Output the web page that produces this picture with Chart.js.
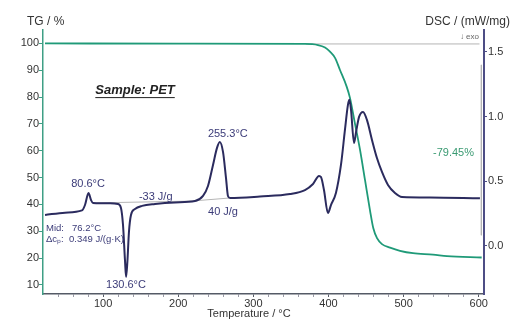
<!DOCTYPE html>
<html>
<head>
<meta charset="utf-8">
<script src="https://cdn.jsdelivr.net/npm/chart.js@4/dist/chart.umd.min.js"></script>
<style>
  html, body { margin: 0; padding: 0; background: #fff; }
  canvas { display: block; }
</style>
</head>
<body>
<canvas id="tgaChart" width="524" height="331"></canvas>
<script>
// temperature axis, °C (labels every 100, small marks every 20)
const tempTicks = [40, 60, 80, 100, 120, 140, 160, 180, 200, 220, 240, 260, 280, 300, 320, 340, 360, 380, 400, 420, 440, 460, 480, 500, 520, 540, 560, 580, 600];
const tgTicks = [10, 20, 30, 40, 50, 60, 70, 80, 90, 100];
const dscTicks = [0.0, 0.5, 1.0, 1.5];

// DSC curve (mW/mg)
const dscTemp = [22.7, 49.3, 71.9, 75.9, 80.6, 83.9, 86.6, 109.2, 119.8, 123.8, 126.5, 129.1, 130.6, 132.3, 134.4, 137.1, 142.4, 151.8, 169.1, 195.7, 222.3, 233.0, 239.6, 246.3, 251.6, 255.3, 259.6, 263.6, 266.2, 268.9, 308.8, 348.8, 368.7, 379.4, 387.4, 390.0, 394.0, 399.3, 403.3, 409.9, 416.6, 421.9, 425.9, 427.9, 430.0, 434.0, 436.7, 440.7, 446.0, 451.2, 457.9, 464.5, 471.2, 479.2, 488.5, 497.8, 535.0, 601.6];
const dscValue = [0.238, 0.256, 0.273, 0.315, 0.408, 0.354, 0.331, 0.328, 0.323, 0.292, 0.160, -0.111, -0.242, -0.126, 0.106, 0.238, 0.284, 0.308, 0.323, 0.335, 0.346, 0.385, 0.462, 0.625, 0.757, 0.803, 0.726, 0.524, 0.385, 0.369, 0.381, 0.400, 0.431, 0.478, 0.540, 0.532, 0.431, 0.253, 0.315, 0.408, 0.625, 0.896, 1.090, 1.129, 1.051, 0.795, 0.880, 0.997, 1.036, 0.974, 0.819, 0.679, 0.571, 0.470, 0.408, 0.377, 0.373, 0.367];

// TG curve (%)
const tgTemp = [22.7, 200, 368.7, 386, 395.4, 402, 408.7, 415.3, 424.2, 428.6, 435.3, 442, 448.6, 455.2, 459.6, 464.6, 471.2, 481.9, 495.2, 512.5, 539.1, 557.7, 603.9];
const tgValue = [100.0, 99.9, 99.8, 99.4, 98.5, 96.9, 94.6, 90.1, 83.9, 79.7, 70.0, 60.3, 49.1, 37.9, 31.2, 27.4, 25.2, 23.9, 22.7, 21.8, 21.3, 20.7, 20.2];

// evaluation helper lines
const tgBaseTemp = [370, 601];
const tgBaseValue = [99.8, 99.8];
const stepTemp = [603.5, 603.5];
const stepValue = [92, 28.5];
const coldBaseTemp = [86, 225];
const coldBaseValue = [0.331, 0.346];
const meltBaseTemp = [195, 268];
const meltBaseValue = [0.335, 0.369];

const FONT = "'Liberation Sans', Arial, sans-serif";
const pts = (xs, ys) => xs.map((x, i) => ({ x, y: ys[i] }));

function fixTicks(list) {
  return scale => { scale.ticks = list.map(v => ({ value: v })); };
}

const notes = [
  { text: "80.6°C", x: 80, y: 0.478, axis: "dsc", color: "#3b3b78", size: 11, align: "center" },
  { text: "-33 J/g", x: 170, y: 0.377, axis: "dsc", color: "#3b3b78", size: 11, align: "center" },
  { text: "Mid:", x: 24, y: 0.137, axis: "dsc", color: "#3b3b78", size: 9.5, align: "left" },
  { text: "76.2°C", x: 58.6, y: 0.137, axis: "dsc", color: "#3b3b78", size: 9.5, align: "left" },
  { text: "Δcₚ:", x: 24, y: 0.052, axis: "dsc", color: "#3b3b78", size: 9.5, align: "left" },
  { text: "0.349 J/(g·K)", x: 54.6, y: 0.052, axis: "dsc", color: "#3b3b78", size: 9.5, align: "left" },
  { text: "130.6°C", x: 130.5, y: -0.304, axis: "dsc", color: "#3b3b78", size: 11, align: "center" },
  { text: "255.3°C", x: 266, y: 0.865, axis: "dsc", color: "#3b3b78", size: 11, align: "center" },
  { text: "40 J/g", x: 259.6, y: 0.263, axis: "dsc", color: "#3b3b78", size: 11, align: "center" },
  { text: "-79.45%", x: 566.4, y: 0.72, axis: "dsc", color: "#3a9a72", size: 11, align: "center" }
];

const textPlugin = {
  id: "textPlugin",
  afterDraw(chart) {
    const { ctx, scales } = chart;
    ctx.save();
    ctx.textBaseline = "middle";
    notes.forEach(n => {
      ctx.font = `${n.size}px ${FONT}`;
      ctx.fillStyle = n.color;
      ctx.textAlign = n.align;
      ctx.fillText(n.text, scales.x.getPixelForValue(n.x), scales[n.axis].getPixelForValue(n.y));
    });

    // sample title, bold italic underlined
    ctx.font = `italic bold 13px ${FONT}`;
    ctx.fillStyle = "#222";
    ctx.textAlign = "center";
    const sx = scales.x.getPixelForValue(142.5);
    const sy = scales.tg.getPixelForValue(82.6);
    ctx.fillText("Sample: PET", sx, sy);
    const w = ctx.measureText("Sample: PET").width;
    ctx.fillRect(sx - w / 2, sy + 7, w, 1);

    // axis titles
    ctx.font = `12px ${FONT}`;
    ctx.fillStyle = "#333";
    ctx.textAlign = "left";
    ctx.fillText("TG / %", 27, 22);
    ctx.textAlign = "right";
    ctx.fillText("DSC / (mW/mg)", 510, 22);
    ctx.font = `11px ${FONT}`;
    ctx.textAlign = "center";
    ctx.fillText("Temperature / °C", 249, 314);
    ctx.font = `8px ${FONT}`;
    ctx.fillStyle = "#666";
    ctx.textAlign = "right";
    ctx.fillText("↓ exo", 479, 37);
    ctx.restore();
  }
};

new Chart(document.getElementById("tgaChart"), {
  type: "line",
  data: {
    datasets: [
      { data: pts(dscTemp, dscValue), yAxisID: "dsc", borderColor: "#2b2b5e", borderWidth: 2, cubicInterpolationMode: "monotone" },
      { data: pts(tgTemp, tgValue), yAxisID: "tg", borderColor: "#1f9a78", borderWidth: 1.8, cubicInterpolationMode: "monotone" },
      { data: pts(tgBaseTemp, tgBaseValue), yAxisID: "tg", borderColor: "#b5b5b5", borderWidth: 1 },
      { data: pts(stepTemp, stepValue), yAxisID: "tg", borderColor: "#b5b5b5", borderWidth: 1 },
      { data: pts(coldBaseTemp, coldBaseValue), yAxisID: "dsc", borderColor: "#b5b5b5", borderWidth: 1 },
      { data: pts(meltBaseTemp, meltBaseValue), yAxisID: "dsc", borderColor: "#b5b5b5", borderWidth: 1 }
    ]
  },
  options: {
    responsive: false,
    animation: false,
    elements: { point: { radius: 0 } },
    layout: { padding: { top: 30, left: 0, right: 0, bottom: 0 } },
    plugins: { legend: { display: false }, tooltip: { enabled: false } },
    scales: {
      x: {
        type: "linear",
        min: 20,
        max: 607,
        afterBuildTicks: fixTicks(tempTicks),
        afterFit: s => { s.height = 37; },
        border: { color: "#555a66", width: 1.5 },
        grid: {
          drawOnChartArea: false,
          tickLength: 3,
          tickColor: c => (c.tick && c.tick.value % 100 === 0 ? "#555a66" : "#9a9aa6")
        },
        ticks: {
          padding: 0,
          color: "#333",
          autoSkip: false,
          maxRotation: 0,
          font: { family: FONT, size: 11 },
          callback: v => (v % 100 === 0 ? String(v) : "")
        }
      },
      tg: {
        type: "linear",
        position: "left",
        min: 6.6,
        max: 105,
        afterBuildTicks: fixTicks(tgTicks),
        afterFit: s => { s.width = 43; },
        border: { color: "#3f9f85", width: 1.5 },
        grid: { drawOnChartArea: false, tickLength: 4, color: "#3f9f85" },
        ticks: { padding: 0, color: "#333", font: { family: FONT, size: 11 } }
      },
      dsc: {
        type: "linear",
        position: "right",
        min: -0.374,
        max: 1.67,
        afterBuildTicks: fixTicks(dscTicks),
        afterFit: s => { s.width = 40; },
        border: { color: "#4d4d85", width: 2 },
        grid: { drawOnChartArea: false, tickLength: 3, color: "#4d4d85" },
        ticks: { padding: 1, color: "#333", font: { family: FONT, size: 11 }, callback: v => v.toFixed(1) }
      }
    }
  },
  plugins: [textPlugin]
});
</script>
</body>
</html>
